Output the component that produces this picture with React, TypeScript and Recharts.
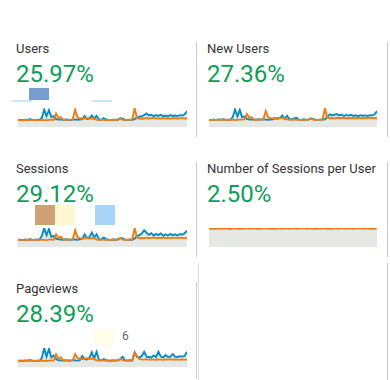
import React from "react";
import { ComposedChart, Area, Line, XAxis, YAxis } from "recharts";

// daily values, current period (blue) and previous period (orange)
const usersCur = [
  35, 36, 34, 37, 36, 40, 36, 35, 37, 36,
  45, 87, 55, 85, 50, 55, 40, 38,
  37, 36, 38, 37, 35, 38, 37, 36, 38,
  40, 55, 40, 45, 58, 42, 56, 38,
  36, 45, 38, 36, 35, 37, 36, 38, 44, 42, 36, 35, 37, 36,
  40, 48, 52, 55, 60, 68, 58, 62, 55, 60, 56, 62, 55, 58, 54, 60, 56, 58, 55, 60, 58, 64, 80,
];
const usersPrev = [
  36, 34, 35, 36, 34, 37, 35, 36, 34, 35, 36, 35, 34, 36, 37, 36,
  68, 45, 50, 37, 36, 35, 37, 38,
  88, 48, 44, 42, 43, 45, 42, 44, 43,
  36, 35, 37, 36, 34, 36, 35, 37, 36, 35, 44, 36, 35, 37, 36, 38,
  96, 45, 42, 44, 43, 45, 42, 44, 46, 43, 44, 42, 45, 43, 44, 42, 45, 44, 43, 45, 44, 43, 44,
];

const newUsersCur = [
  34, 35, 36, 35, 37, 36, 38, 35, 36, 35,
  48, 86, 52, 84, 48, 52, 40, 37,
  36, 37, 35, 38, 36, 37, 36, 35, 37,
  38, 42, 40, 44, 56, 40, 55, 39,
  37, 42, 45, 36, 35, 38, 36, 37, 41, 40, 36, 35, 36, 37,
  38, 50, 62, 58, 60, 64, 57, 61, 54, 59, 56, 60, 54, 57, 53, 58, 55, 57, 54, 58, 57, 62, 78,
];
const newUsersPrev = [
  35, 34, 36, 35, 34, 36, 35, 37, 34, 35, 36, 34, 35, 36, 36, 37,
  64, 46, 48, 36, 37, 35, 36, 38,
  78, 47, 43, 42, 44, 44, 43, 45, 42,
  37, 35, 36, 37, 35, 36, 34, 36, 35, 36, 42, 36, 34, 36, 35, 37,
  93, 47, 43, 44, 42, 45, 43, 44, 45, 42, 44, 43, 44, 42, 45, 43, 44, 43, 44, 45, 43, 44, 43,
];

const sessionsCur = [
  36, 37, 35, 38, 36, 39, 37, 36, 38, 37,
  55, 96, 60, 91, 52, 56, 42, 39,
  38, 37, 39, 38, 36, 39, 38, 37, 39,
  42, 64, 45, 50, 73, 48, 64, 40,
  38, 48, 40, 37, 36, 38, 37, 39, 46, 44, 37, 36, 38, 37,
  42, 55, 60, 68, 85, 72, 62, 70, 58, 66, 60, 68, 57, 64, 58, 66, 60, 64, 58, 66, 62, 70, 82,
];
const sessionsPrev = [
  37, 35, 36, 37, 35, 38, 36, 37, 35, 36, 37, 36, 35, 37, 38, 37,
  64, 46, 52, 38, 37, 36, 38, 39,
  85, 50, 45, 43, 44, 46, 43, 45, 44,
  37, 36, 38, 37, 35, 37, 36, 38, 37, 36, 45, 37, 36, 38, 37, 39,
  96, 48, 44, 46, 45, 47, 44, 46, 48, 45, 46, 44, 47, 45, 46, 44, 47, 46, 45, 47, 46, 45, 46,
];

const perUserCur = [
  1.55, 1.53, 1.56, 1.54, 1.57, 1.53, 1.55, 1.56, 1.54, 1.52, 1.55, 1.57,
  1.54, 1.56, 1.53, 1.55, 1.57, 1.54, 1.56, 1.55, 1.53, 1.56, 1.54, 1.55,
  1.57, 1.56, 1.54, 1.55, 1.53, 1.56, 1.55, 1.54, 1.57, 1.55, 1.53, 1.56,
  1.55, 1.54, 1.56, 1.55, 1.57, 1.54, 1.56, 1.55, 1.53, 1.56, 1.54, 1.55,
  1.57, 1.56, 1.54, 1.55, 1.53, 1.56, 1.55, 1.54, 1.57, 1.55, 1.53, 1.56,
  1.55, 1.54, 1.56, 1.55, 1.57, 1.54, 1.56, 1.55, 1.53, 1.56, 1.54, 1.58,
];
const perUserPrev = [
  1.57, 1.56, 1.57, 1.57, 1.56, 1.57, 1.56, 1.57, 1.57, 1.56, 1.57, 1.57,
  1.56, 1.57, 1.57, 1.56, 1.57, 1.57, 1.56, 1.57, 1.57, 1.56, 1.57, 1.58,
  1.57, 1.56, 1.57, 1.57, 1.56, 1.57, 1.57, 1.56, 1.57, 1.57, 1.56, 1.57,
  1.57, 1.56, 1.57, 1.57, 1.58, 1.57, 1.56, 1.57, 1.57, 1.56, 1.57, 1.57,
  1.56, 1.57, 1.57, 1.56, 1.57, 1.57, 1.56, 1.57, 1.57, 1.56, 1.57, 1.57,
  1.56, 1.57, 1.57, 1.56, 1.57, 1.57, 1.56, 1.57, 1.57, 1.56, 1.57, 1.57,
];

const pageviewsCur = [
  31, 32, 30, 33, 31, 35, 32, 30, 32, 31,
  45, 95, 52, 91, 48, 58, 40, 34,
  33, 32, 34, 33, 31, 34, 33, 32, 34,
  55, 40, 38, 45, 73, 42, 76, 36,
  33, 40, 34, 32, 31, 33, 32, 34, 40, 51, 33, 32, 34, 33,
  73, 50, 48, 55, 76, 52, 50, 48, 58, 50, 76, 52, 48, 60, 50, 52, 64, 52, 50, 54, 52, 55, 76,
];
const pageviewsPrev = [
  32, 30, 31, 32, 30, 33, 31, 32, 30, 31, 32, 31, 30, 32, 33, 32,
  64, 42, 48, 33, 32, 31, 33, 34,
  64, 45, 42, 40, 41, 44, 40, 42, 41,
  33, 32, 34, 33, 31, 33, 32, 34, 33, 32, 40, 33, 32, 34, 33, 35,
  73, 55, 40, 38, 37, 39, 36, 38, 37, 36, 38, 37, 36, 38, 37, 39, 36, 38, 37, 36, 38, 37, 36,
];

const titles = ["Users", "New Users", "Sessions", "Number of Sessions per User", "Pageviews"];
const changes = ["25.97%", "27.36%", "29.12%", "2.50%", "28.39%"];

const BLUE = "#058dc7";
const ORANGE = "#ed7e17";
const FILL = "#e6e8e4";

function Spark({ cur, prev, width }: { cur: number[]; prev: number[]; width: number }) {
  const data = cur.map((v, i) => ({ day: i + 1, cur: v, prev: prev[i] }));
  return (
    <ComposedChart width={width} height={19} data={data} margin={{ top: 0, right: 0, bottom: 0, left: 0 }}>
      <XAxis dataKey="day" hide />
      <YAxis hide domain={[0, "dataMax"]} />
      <Area type="linear" dataKey="cur" stroke="none" fill={FILL} fillOpacity={1} isAnimationActive={false} />
      <Area type="linear" dataKey="prev" stroke="none" fill={FILL} fillOpacity={1} isAnimationActive={false} />
      <Line type="linear" dataKey="cur" stroke={BLUE} strokeWidth={1.9} dot={false} isAnimationActive={false} />
      <Line type="linear" dataKey="prev" stroke={ORANGE} strokeWidth={1.9} dot={false} isAnimationActive={false} />
    </ComposedChart>
  );
}

function Panel({ title, value, cur, prev, x, y }: { title: string; value: string; cur: number[]; prev: number[]; x: number; y: number }) {
  return (
    <>
      <div style={{ position: "absolute", left: x, top: y, fontSize: 13, lineHeight: 1, color: "#333", whiteSpace: "nowrap" }}>
        {title}
      </div>
      <div style={{ position: "absolute", left: x, top: y + 20, fontSize: 24, lineHeight: 1, color: "#0f9d58" }}>
        {value}
      </div>
      <div style={{ position: "absolute", left: x + 2, top: y + 66 }}>
        <Spark cur={cur} prev={prev} width={x < 100 ? 169 : 168} />
      </div>
    </>
  );
}

const box = (left: number, top: number, w: number, h: number, bg: string) => (
  <div style={{ position: "absolute", left, top, width: w, height: h, background: bg }} />
);

export default function App() {
  return (
    <div style={{ position: "absolute", left: 0, top: 0, width: 390, height: 380, background: "#fff", fontFamily: "Roboto, sans-serif", overflow: "hidden" }}>
      <Panel title={titles[0]} value={changes[0]} cur={usersCur} prev={usersPrev} x={16} y={42} />
      <Panel title={titles[1]} value={changes[1]} cur={newUsersCur} prev={newUsersPrev} x={207} y={42} />
      <Panel title={titles[2]} value={changes[2]} cur={sessionsCur} prev={sessionsPrev} x={16} y={162} />
      <Panel title={titles[3]} value={changes[3]} cur={perUserCur} prev={perUserPrev} x={207} y={162} />
      <Panel title={titles[4]} value={changes[4]} cur={pageviewsCur} prev={pageviewsPrev} x={16} y={282} />

      {/* dividers */}
      {box(196, 42, 1, 95, "#cccccc")}
      {box(196, 162, 1, 95, "#cccccc")}
      {box(196, 282, 1, 96, "#cccccc")}
      {box(198, 263, 1, 117, "#dddddd")}
      {box(387, 42, 1, 95, "#cccccc")}
      {box(387, 162, 1, 95, "#cccccc")}
      {box(387, 263, 1, 117, "#cccccc")}

      {/* stray blocks */}
      {box(12, 100, 20, 2, "#c9e8f7")}
      {box(29, 88, 20, 12, "#789ecf")}
      {box(92, 100, 20, 2, "#c9e8f7")}
      {box(35, 205, 20, 20, "#cfa174")}
      {box(55, 205, 20, 20, "#fff8d2")}
      {box(95, 205, 20, 20, "#a8d5f7")}
      {box(94, 329, 20, 16, "#fffde8")}
      <div style={{ position: "absolute", left: 122, top: 330, fontSize: 12, lineHeight: 1, color: "#666" }}>6</div>
    </div>
  );
}
